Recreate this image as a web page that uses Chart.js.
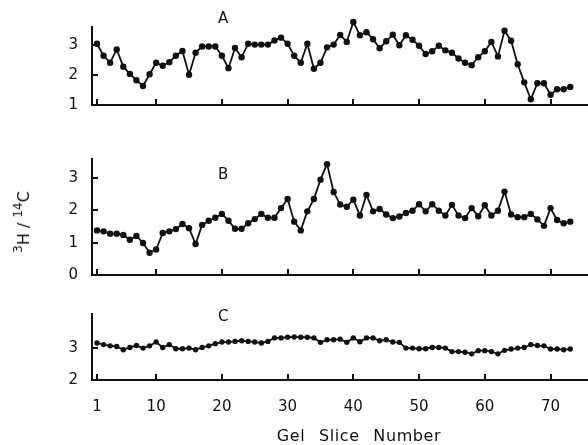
<!DOCTYPE html>
<html>
<head>
<meta charset="utf-8">
<script src="https://cdn.jsdelivr.net/npm/chart.js@4.4.0/dist/chart.umd.min.js"></script>
<style>
  body { margin: 0; background: #fff; }
  #wrap { position: relative; width: 588px; height: 445px; overflow: hidden; font-family: "DejaVu Sans", sans-serif; color: #111; }
  #wrap canvas { position: absolute; left: 0; }
  .ytitle { position: absolute; left: 22px; top: 222px; transform: translate(-50%, -50%) rotate(-90deg); white-space: nowrap; font-size: 16px; }
  .ytitle sup { font-size: 12px; vertical-align: 7px; }
  .xtitle { position: absolute; left: 359px; top: 436px; transform: translate(-50%, -50%); white-space: nowrap; font-size: 16px; line-height: 16px; word-spacing: 8px; letter-spacing: 0.6px; }
</style>
</head>
<body>
<div id="wrap">
  <canvas id="panelA" width="588" height="120" style="top:0px"></canvas>
  <canvas id="panelB" width="588" height="170" style="top:120px"></canvas>
  <canvas id="panelC" width="588" height="155" style="top:290px"></canvas>
  <div class="ytitle"><sup>3</sup>H / <sup>14</sup>C</div>
  <div class="xtitle">Gel Slice Number</div>
</div>
<script>
// gel slice numbers (x)
const slices = [1, 2, 3, 4, 5, 6, 7, 8, 9, 10, 11, 12, 13, 14, 15, 16, 17, 18, 19, 20,
  21, 22, 23, 24, 25, 26, 27, 28, 29, 30, 31, 32, 33, 34, 35, 36, 37, 38, 39, 40,
  41, 42, 43, 44, 45, 46, 47, 48, 49, 50, 51, 52, 53, 54, 55, 56, 57, 58, 59, 60,
  61, 62, 63, 64, 65, 66, 67, 68, 69, 70, 71, 72, 73];

// 3H/14C ratios
const ratioA = [3.03, 2.63, 2.40, 2.84, 2.27, 2.03, 1.82, 1.63, 2.02, 2.40,
  2.30, 2.42, 2.63, 2.79, 2.00, 2.73, 2.94, 2.94, 2.94, 2.63,
  2.22, 2.89, 2.58, 3.03, 3.00, 3.00, 3.00, 3.14, 3.23, 3.03,
  2.63, 2.40, 3.03, 2.20, 2.40, 2.91, 3.00, 3.32, 3.09, 3.75,
  3.31, 3.41, 3.18, 2.88, 3.11, 3.33, 2.98, 3.31, 3.16, 2.96,
  2.69, 2.78, 2.96, 2.81, 2.73, 2.54, 2.40, 2.32, 2.58, 2.78,
  3.09, 2.61, 3.46, 3.13, 2.35, 1.75, 1.19, 1.72, 1.72, 1.34,
  1.52, 1.52, 1.60];
const ratioB = [1.38, 1.35, 1.28, 1.28, 1.24, 1.09, 1.21, 0.99, 0.69, 0.79,
  1.30, 1.35, 1.42, 1.58, 1.45, 0.96, 1.55, 1.68, 1.77, 1.89,
  1.68, 1.43, 1.43, 1.60, 1.73, 1.89, 1.77, 1.77, 2.07, 2.35,
  1.65, 1.38, 1.97, 2.35, 2.95, 3.43, 2.57, 2.18, 2.11, 2.33,
  1.84, 2.48, 1.97, 2.04, 1.87, 1.76, 1.81, 1.92, 1.99, 2.19,
  1.97, 2.19, 1.99, 1.84, 2.17, 1.84, 1.76, 2.07, 1.82, 2.16,
  1.84, 1.99, 2.58, 1.87, 1.79, 1.79, 1.89, 1.72, 1.52, 2.07,
  1.70, 1.60, 1.65];
const ratioC = [3.16, 3.11, 3.07, 3.05, 2.95, 3.02, 3.08, 3.00, 3.07, 3.19,
  3.02, 3.11, 2.98, 2.98, 3.00, 2.95, 3.02, 3.07, 3.14, 3.19,
  3.19, 3.21, 3.23, 3.21, 3.19, 3.16, 3.21, 3.32, 3.32, 3.34,
  3.35, 3.34, 3.34, 3.32, 3.18, 3.26, 3.26, 3.28, 3.18, 3.32,
  3.20, 3.32, 3.32, 3.23, 3.26, 3.19, 3.18, 3.00, 3.00, 2.98,
  2.98, 3.02, 3.02, 3.00, 2.89, 2.89, 2.87, 2.82, 2.92, 2.92,
  2.89, 2.82, 2.93, 2.97, 3.00, 3.02, 3.11, 3.08, 3.07, 2.97,
  2.97, 2.95, 2.97];

// tick labels
const xTicks = [1, 10, 20, 30, 40, 50, 60, 70];
const yTicksA = [1, 2, 3];
const yTicksB = [0, 1, 2, 3];
const yTicksC = [2, 3];

const INK = "#111";
const FONT = "DejaVu Sans";

// y axis line (may stop below the plot top), short inward ticks, panel letter
const panelDecor = {
  id: "panelDecor",
  beforeDatasetsDraw(chart, args, opts) {
    const ctx = chart.ctx, xs = chart.scales.x, ys = chart.scales.y, a = chart.chartArea;
    ctx.save();
    ctx.strokeStyle = INK;
    ctx.lineWidth = 2;
    ctx.beginPath();
    ctx.moveTo(a.left, Math.round(ys.getPixelForValue(opts.axisTop)));
    ctx.lineTo(a.left, a.bottom);
    xs.ticks.forEach(t => {
      const px = Math.round(xs.getPixelForValue(t.value));
      ctx.moveTo(px, a.bottom);
      ctx.lineTo(px, a.bottom - 6);
    });
    ys.ticks.forEach(t => {
      if (t.value === ys.min) return;
      const py = Math.round(ys.getPixelForValue(t.value));
      ctx.moveTo(a.left, py);
      ctx.lineTo(a.left + 6, py);
    });
    ctx.stroke();
    ctx.fillStyle = INK;
    ctx.font = "15px '" + FONT + "'";
    ctx.textAlign = "center";
    ctx.textBaseline = "middle";
    ctx.fillText(opts.letter, xs.getPixelForValue(20.2), ys.getPixelForValue(opts.axisTop) + opts.letterDy);
    ctx.restore();
  }
};

function makePanel(id, values, yMin, yMax, axisTop, yTicks, letter, letterDy, pad, showX, radius) {
  return new Chart(document.getElementById(id), {
    type: "line",
    data: {
      datasets: [{
        data: slices.map((s, i) => ({ x: s, y: values[i] })),
        borderColor: INK,
        backgroundColor: INK,
        borderWidth: 1.8,
        pointRadius: radius,
        pointBackgroundColor: INK,
        pointBorderWidth: 0,
        tension: 0,
        clip: false
      }]
    },
    options: {
      responsive: false,
      animation: false,
      events: [],
      layout: { autoPadding: false, padding: pad },
      plugins: {
        legend: { display: false },
        tooltip: { enabled: false },
        panelDecor: { letter: letter, letterDy: letterDy, axisTop: axisTop }
      },
      scales: {
        x: {
          type: "linear",
          min: 0.24,
          max: 75.7,
          afterBuildTicks: s => { s.ticks = xTicks.map(v => ({ value: v })); },
          afterFit: s => { s.height = showX ? 65 : 0; },
          grid: { display: false },
          border: { display: true, color: INK, width: 2 },
          ticks: {
            display: showX,
            color: INK,
            padding: 10,
            maxRotation: 0,
            autoSkip: false,
            font: { family: FONT, size: 15 }
          }
        },
        y: {
          min: yMin,
          max: yMax,
          afterBuildTicks: s => { s.ticks = yTicks.map(v => ({ value: v })); },
          afterFit: s => { s.width = 92; },
          grid: { display: false },
          border: { display: false },
          ticks: {
            color: INK,
            padding: 6,
            font: { family: FONT, size: 15 }
          }
        }
      }
    },
    plugins: [panelDecor]
  });
}

// panel A: plot area reaches 3.85 so the 3.75 peak keeps its dot; axis line stops at 3.6
makePanel("panelA", ratioA, 1, 3.85, 3.6, yTicksA, "A", -7, { top: 18.95, bottom: 7, left: 0, right: 0 }, false, 3.2);
makePanel("panelB", ratioB, 0, 3.62, 3.62, yTicksB, "B", 17, { top: 38, bottom: 9, left: 0, right: 0 }, false, 3.2);
makePanel("panelC", ratioC, 2, 4.1, 4.1, yTicksC, "C", 4, { top: 23, bottom: 0, left: 0, right: 0 }, true, 2.7);
</script>
</body>
</html>
